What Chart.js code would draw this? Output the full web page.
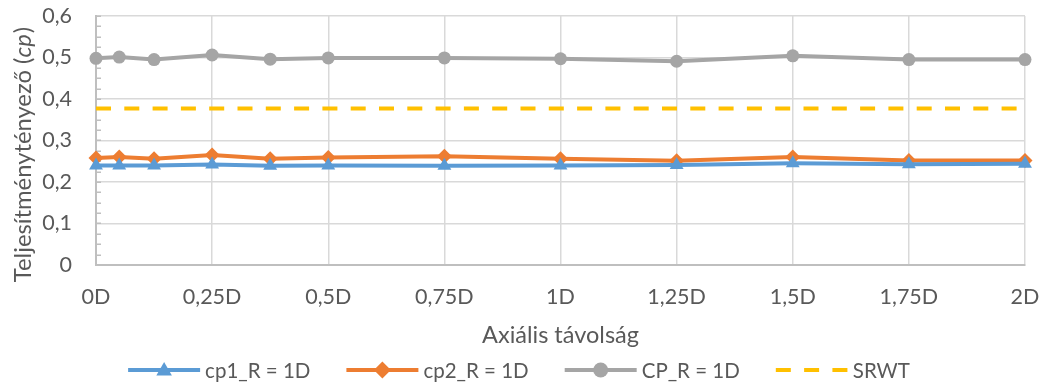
<!DOCTYPE html>
<html>
<head>
<meta charset="utf-8">
<script src="https://cdn.jsdelivr.net/npm/chart.js@4.4.0/dist/chart.umd.min.js"></script>
<style>
html,body{margin:0;padding:0;background:#fff;}
#wrap{width:1044px;height:385px;}
</style>
</head>
<body>
<div id="wrap"><canvas id="c" width="1044" height="385"></canvas></div>
<script>
const xPositions = [0, 0.05, 0.125, 0.25, 0.375, 0.5, 0.75, 1, 1.25, 1.5, 1.75, 2];
const cp1Values = [0.240, 0.240, 0.240, 0.242, 0.239, 0.240, 0.239, 0.240, 0.241, 0.245, 0.243, 0.244];
const cp2Values = [0.258, 0.260, 0.256, 0.265, 0.256, 0.259, 0.262, 0.256, 0.251, 0.260, 0.252, 0.252];
const CPValues  = [0.498, 0.501, 0.495, 0.506, 0.496, 0.499, 0.499, 0.497, 0.491, 0.504, 0.495, 0.495];
const srwtValues = [0.377, 0.377, 0.377, 0.377, 0.377, 0.377, 0.377, 0.377, 0.377, 0.377, 0.377, 0.377];
const seriesNames = ['cp1_R = 1D', 'cp2_R = 1D', 'CP_R = 1D', 'SRWT'];
const xTitle = 'Axiális távolság';
const yTitleMain = 'Teljesítménytényező (';
const yTitleItalic = 'cp';
const yTitleEnd = ')';

const FONT = 'Lato, "Open Sans", sans-serif';
const TXT = '#595959';
const colors = ['#5B9BD5', '#ED7D31', '#A5A5A5', '#FFC000'];
const TARGET = { left: 96, top: 16, right: 1025, bottom: 265 };

function pts(vals){ return xPositions.map((x,i)=>({x:x, y:vals[i]})); }
function fmt(v){ return String(+v.toFixed(3)).replace('.', ','); }

function marker(ctx, style, cx, cy, r){
  ctx.beginPath();
  if (style === 'triangle') {
    const h = r*1.5, w = r*1.73;
    ctx.moveTo(cx, cy - h*0.6); ctx.lineTo(cx + w/2, cy + h*0.4); ctx.lineTo(cx - w/2, cy + h*0.4); ctx.closePath();
  } else if (style === 'rectRot') {
    ctx.moveTo(cx, cy - r); ctx.lineTo(cx + r, cy); ctx.lineTo(cx, cy + r); ctx.lineTo(cx - r, cy); ctx.closePath();
  } else {
    ctx.arc(cx, cy, r, 0, Math.PI*2);
  }
  ctx.fill();
}

const titlesPlugin = {
  id:'titles',
  beforeDatasetsDraw(chart){
    const ctx = chart.ctx, y = chart.scales.y, ca = chart.chartArea;
    ctx.save();
    ctx.strokeStyle = '#BFBFBF';
    ctx.lineWidth = 1.5;
    for (let k = 0; k <= 24; k++) {
      const py = Math.round(y.getPixelForValue(k*0.025)) + 0.25;
      ctx.beginPath(); ctx.moveTo(ca.left, py); ctx.lineTo(ca.left+5, py); ctx.stroke();
    }
    ctx.restore();
  },
  afterDraw(chart){
    const ctx = chart.ctx;
    const ca = chart.chartArea;
    ctx.save();
    ctx.fillStyle = TXT;
    // x title
    ctx.font = '23.5px ' + FONT;
    ctx.textAlign = 'center';
    ctx.textBaseline = 'alphabetic';
    ctx.fillText(xTitle, (ca.left+ca.right)/2, 343);
    // y title (rotated, mixed italic)
    ctx.translate(31, 155);
    ctx.rotate(-Math.PI/2);
    const fN = '23.8px ' + FONT, fI = 'italic 23.8px ' + FONT;
    ctx.font = fN; const w1 = ctx.measureText(yTitleMain).width;
    ctx.font = fI; const w2 = ctx.measureText(yTitleItalic).width;
    ctx.font = fN; const w3 = ctx.measureText(yTitleEnd).width;
    let x = -(w1+w2+w3)/2;
    ctx.textAlign = 'left';
    ctx.font = fN; ctx.fillText(yTitleMain, x, 0); x += w1;
    ctx.font = fI; ctx.fillText(yTitleItalic, x, 0); x += w2 + 1;
    ctx.font = fN; ctx.fillText(yTitleEnd, x, 0);
    ctx.restore();

    // legend
    ctx.save();
    ctx.font = '20.5px ' + FONT;
    ctx.textBaseline = 'middle';
    const lineLen = 72, gapText = 5, gapItem = 36, ly = 370;
    const widths = seriesNames.map(n=>ctx.measureText(n).width);
    const total = widths.reduce((a,w)=>a+lineLen+gapText+w,0) + gapItem*(seriesNames.length-1);
    let lx = 519 - total/2;
    chart.data.datasets.forEach((ds,i)=>{
      ctx.strokeStyle = ds.borderColor;
      ctx.lineWidth = 4;
      ctx.setLineDash(ds.borderDash || []);
      ctx.beginPath(); ctx.moveTo(lx, ly); ctx.lineTo(lx+lineLen, ly); ctx.stroke();
      ctx.setLineDash([]);
      if (ds.pointRadius > 0) {
        ctx.fillStyle = ds.pointBackgroundColor;
        marker(ctx, ds.pointStyle, lx + lineLen/2, ly, ds.pointRadius + 1);
      }
      ctx.fillStyle = TXT;
      ctx.textAlign = 'left';
      ctx.fillText(seriesNames[i], lx+lineLen+gapText, ly + 1);
      lx += lineLen + gapText + widths[i] + gapItem;
    });
    ctx.restore();
  }
};

const ds = (label, vals, color, style, radius, dash) => ({
  label, data: pts(vals), borderColor: color, backgroundColor: color,
  pointBackgroundColor: color, pointBorderColor: color, pointBorderWidth: 0,
  pointStyle: style || 'circle', pointRadius: radius, pointHoverRadius: radius,
  borderWidth: 4, borderDash: dash, borderCapStyle: 'butt', tension: 0, clip: false
});

const chart = new Chart(document.getElementById('c'), {
  type: 'line',
  data: {
    datasets: [
      ds(seriesNames[0], cp1Values, colors[0], 'triangle', 8),
      ds(seriesNames[1], cp2Values, colors[1], 'rectRot', 7.5),
      ds(seriesNames[2], CPValues, colors[2], 'circle', 6.5),
      ds(seriesNames[3], srwtValues, colors[3], 'circle', 0, [15, 13.3])
    ]
  },
  options: {
    responsive: false,
    animation: false,
    devicePixelRatio: 1,
    layout: { padding: { top: 16, right: 19, left: 0, bottom: 0 } },
    plugins: { legend: { display: false }, tooltip: { enabled: false } },
    scales: {
      x: {
        type: 'linear', min: 0, max: 2,
        afterFit(s){ s.height = 120; },
        ticks: { stepSize: 0.25, callback: v => fmt(v) + 'D', color: TXT, font: { family: FONT, size: 21.5 }, padding: 0, maxRotation: 0, autoSkip: false },
        grid: { color: '#D9D9D9', lineWidth: 1.5, drawTicks: true, tickLength: 19, tickColor: 'rgba(0,0,0,0)' },
        border: { color: '#BFBFBF', width: 2 }
      },
      y: {
        min: 0, max: 0.6,
        afterFit(s){ s.width = 96; },
        ticks: { stepSize: 0.1, callback: v => fmt(v), color: TXT, font: { family: FONT, size: 21.5 }, padding: 0 },
        grid: { color: '#D9D9D9', lineWidth: 1.5, drawTicks: true, tickLength: 24, tickColor: 'rgba(0,0,0,0)' },
        border: { color: '#BFBFBF', width: 2 }
      }
    }
  },
  plugins: [titlesPlugin]
});

// align plot area to the reference frame
const ca = chart.chartArea;
const lp = chart.options.layout.padding;
lp.top += TARGET.top - ca.top;
lp.left += TARGET.left - ca.left;
lp.right += ca.right - TARGET.right;
lp.bottom += ca.bottom - TARGET.bottom;
chart.update();
</script>
</body>
</html>
